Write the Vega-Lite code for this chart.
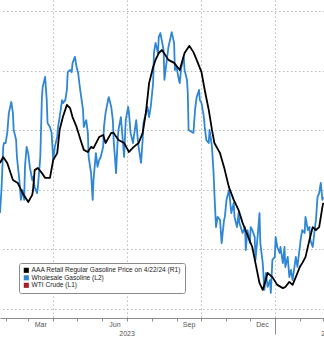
{
  "$schema": "https://vega.github.io/schema/vega-lite/v6.json",
  "width": 324,
  "height": 318,
  "padding": {"left": 0, "top": 0, "right": 0, "bottom": 20},
  "autosize": {"type": "none"},
  "background": "white",
  "config": {
    "view": {"stroke": null},
    "axis": {"labelFont": "Liberation Sans", "labelColor": "#555555", "labelFontSize": 7, "labelFlush": false, "title": null},
    "legend": {"labelFont": "Liberation Sans"}
  },
  "data": {
    "values": [
      {"date": "2023-01-25", "series": "AAA Retail Regular Gasoline Price on 4/22/24 (R1)", "price": 3.490},
      {"date": "2023-01-29", "series": "AAA Retail Regular Gasoline Price on 4/22/24 (R1)", "price": 3.510},
      {"date": "2023-02-03", "series": "AAA Retail Regular Gasoline Price on 4/22/24 (R1)", "price": 3.490},
      {"date": "2023-02-10", "series": "AAA Retail Regular Gasoline Price on 4/22/24 (R1)", "price": 3.433},
      {"date": "2023-02-16", "series": "AAA Retail Regular Gasoline Price on 4/22/24 (R1)", "price": 3.423},
      {"date": "2023-02-22", "series": "AAA Retail Regular Gasoline Price on 4/22/24 (R1)", "price": 3.389},
      {"date": "2023-03-01", "series": "AAA Retail Regular Gasoline Price on 4/22/24 (R1)", "price": 3.359},
      {"date": "2023-03-06", "series": "AAA Retail Regular Gasoline Price on 4/22/24 (R1)", "price": 3.383},
      {"date": "2023-03-07", "series": "AAA Retail Regular Gasoline Price on 4/22/24 (R1)", "price": 3.399},
      {"date": "2023-03-09", "series": "AAA Retail Regular Gasoline Price on 4/22/24 (R1)", "price": 3.466},
      {"date": "2023-03-13", "series": "AAA Retail Regular Gasoline Price on 4/22/24 (R1)", "price": 3.473},
      {"date": "2023-03-18", "series": "AAA Retail Regular Gasoline Price on 4/22/24 (R1)", "price": 3.456},
      {"date": "2023-03-22", "series": "AAA Retail Regular Gasoline Price on 4/22/24 (R1)", "price": 3.440},
      {"date": "2023-03-28", "series": "AAA Retail Regular Gasoline Price on 4/22/24 (R1)", "price": 3.440},
      {"date": "2023-04-01", "series": "AAA Retail Regular Gasoline Price on 4/22/24 (R1)", "price": 3.500},
      {"date": "2023-04-06", "series": "AAA Retail Regular Gasoline Price on 4/22/24 (R1)", "price": 3.523},
      {"date": "2023-04-09", "series": "AAA Retail Regular Gasoline Price on 4/22/24 (R1)", "price": 3.601},
      {"date": "2023-04-13", "series": "AAA Retail Regular Gasoline Price on 4/22/24 (R1)", "price": 3.644},
      {"date": "2023-04-18", "series": "AAA Retail Regular Gasoline Price on 4/22/24 (R1)", "price": 3.685},
      {"date": "2023-04-22", "series": "AAA Retail Regular Gasoline Price on 4/22/24 (R1)", "price": 3.674},
      {"date": "2023-04-25", "series": "AAA Retail Regular Gasoline Price on 4/22/24 (R1)", "price": 3.644},
      {"date": "2023-04-30", "series": "AAA Retail Regular Gasoline Price on 4/22/24 (R1)", "price": 3.611},
      {"date": "2023-05-05", "series": "AAA Retail Regular Gasoline Price on 4/22/24 (R1)", "price": 3.567},
      {"date": "2023-05-09", "series": "AAA Retail Regular Gasoline Price on 4/22/24 (R1)", "price": 3.534},
      {"date": "2023-05-14", "series": "AAA Retail Regular Gasoline Price on 4/22/24 (R1)", "price": 3.527},
      {"date": "2023-05-18", "series": "AAA Retail Regular Gasoline Price on 4/22/24 (R1)", "price": 3.544},
      {"date": "2023-05-21", "series": "AAA Retail Regular Gasoline Price on 4/22/24 (R1)", "price": 3.540},
      {"date": "2023-05-28", "series": "AAA Retail Regular Gasoline Price on 4/22/24 (R1)", "price": 3.577},
      {"date": "2023-06-02", "series": "AAA Retail Regular Gasoline Price on 4/22/24 (R1)", "price": 3.584},
      {"date": "2023-06-05", "series": "AAA Retail Regular Gasoline Price on 4/22/24 (R1)", "price": 3.557},
      {"date": "2023-06-12", "series": "AAA Retail Regular Gasoline Price on 4/22/24 (R1)", "price": 3.591},
      {"date": "2023-06-15", "series": "AAA Retail Regular Gasoline Price on 4/22/24 (R1)", "price": 3.591},
      {"date": "2023-06-21", "series": "AAA Retail Regular Gasoline Price on 4/22/24 (R1)", "price": 3.567},
      {"date": "2023-06-28", "series": "AAA Retail Regular Gasoline Price on 4/22/24 (R1)", "price": 3.557},
      {"date": "2023-07-04", "series": "AAA Retail Regular Gasoline Price on 4/22/24 (R1)", "price": 3.527},
      {"date": "2023-07-10", "series": "AAA Retail Regular Gasoline Price on 4/22/24 (R1)", "price": 3.544},
      {"date": "2023-07-16", "series": "AAA Retail Regular Gasoline Price on 4/22/24 (R1)", "price": 3.557},
      {"date": "2023-07-21", "series": "AAA Retail Regular Gasoline Price on 4/22/24 (R1)", "price": 3.591},
      {"date": "2023-07-25", "series": "AAA Retail Regular Gasoline Price on 4/22/24 (R1)", "price": 3.658},
      {"date": "2023-07-29", "series": "AAA Retail Regular Gasoline Price on 4/22/24 (R1)", "price": 3.758},
      {"date": "2023-08-03", "series": "AAA Retail Regular Gasoline Price on 4/22/24 (R1)", "price": 3.812},
      {"date": "2023-08-06", "series": "AAA Retail Regular Gasoline Price on 4/22/24 (R1)", "price": 3.836},
      {"date": "2023-08-10", "series": "AAA Retail Regular Gasoline Price on 4/22/24 (R1)", "price": 3.859},
      {"date": "2023-08-14", "series": "AAA Retail Regular Gasoline Price on 4/22/24 (R1)", "price": 3.869},
      {"date": "2023-08-22", "series": "AAA Retail Regular Gasoline Price on 4/22/24 (R1)", "price": 3.836},
      {"date": "2023-08-29", "series": "AAA Retail Regular Gasoline Price on 4/22/24 (R1)", "price": 3.826},
      {"date": "2023-09-05", "series": "AAA Retail Regular Gasoline Price on 4/22/24 (R1)", "price": 3.802},
      {"date": "2023-09-11", "series": "AAA Retail Regular Gasoline Price on 4/22/24 (R1)", "price": 3.859},
      {"date": "2023-09-17", "series": "AAA Retail Regular Gasoline Price on 4/22/24 (R1)", "price": 3.883},
      {"date": "2023-09-22", "series": "AAA Retail Regular Gasoline Price on 4/22/24 (R1)", "price": 3.862},
      {"date": "2023-09-26", "series": "AAA Retail Regular Gasoline Price on 4/22/24 (R1)", "price": 3.836},
      {"date": "2023-10-02", "series": "AAA Retail Regular Gasoline Price on 4/22/24 (R1)", "price": 3.795},
      {"date": "2023-10-06", "series": "AAA Retail Regular Gasoline Price on 4/22/24 (R1)", "price": 3.735},
      {"date": "2023-10-11", "series": "AAA Retail Regular Gasoline Price on 4/22/24 (R1)", "price": 3.668},
      {"date": "2023-10-15", "series": "AAA Retail Regular Gasoline Price on 4/22/24 (R1)", "price": 3.601},
      {"date": "2023-10-18", "series": "AAA Retail Regular Gasoline Price on 4/22/24 (R1)", "price": 3.557},
      {"date": "2023-10-25", "series": "AAA Retail Regular Gasoline Price on 4/22/24 (R1)", "price": 3.523},
      {"date": "2023-10-30", "series": "AAA Retail Regular Gasoline Price on 4/22/24 (R1)", "price": 3.476},
      {"date": "2023-11-05", "series": "AAA Retail Regular Gasoline Price on 4/22/24 (R1)", "price": 3.409},
      {"date": "2023-11-11", "series": "AAA Retail Regular Gasoline Price on 4/22/24 (R1)", "price": 3.366},
      {"date": "2023-11-17", "series": "AAA Retail Regular Gasoline Price on 4/22/24 (R1)", "price": 3.332},
      {"date": "2023-11-22", "series": "AAA Retail Regular Gasoline Price on 4/22/24 (R1)", "price": 3.289},
      {"date": "2023-11-27", "series": "AAA Retail Regular Gasoline Price on 4/22/24 (R1)", "price": 3.255},
      {"date": "2023-12-04", "series": "AAA Retail Regular Gasoline Price on 4/22/24 (R1)", "price": 3.208},
      {"date": "2023-12-08", "series": "AAA Retail Regular Gasoline Price on 4/22/24 (R1)", "price": 3.154},
      {"date": "2023-12-13", "series": "AAA Retail Regular Gasoline Price on 4/22/24 (R1)", "price": 3.087},
      {"date": "2023-12-17", "series": "AAA Retail Regular Gasoline Price on 4/22/24 (R1)", "price": 3.064},
      {"date": "2023-12-19", "series": "AAA Retail Regular Gasoline Price on 4/22/24 (R1)", "price": 3.081},
      {"date": "2023-12-23", "series": "AAA Retail Regular Gasoline Price on 4/22/24 (R1)", "price": 3.121},
      {"date": "2023-12-29", "series": "AAA Retail Regular Gasoline Price on 4/22/24 (R1)", "price": 3.107},
      {"date": "2024-01-04", "series": "AAA Retail Regular Gasoline Price on 4/22/24 (R1)", "price": 3.081},
      {"date": "2024-01-11", "series": "AAA Retail Regular Gasoline Price on 4/22/24 (R1)", "price": 3.070},
      {"date": "2024-01-14", "series": "AAA Retail Regular Gasoline Price on 4/22/24 (R1)", "price": 3.074},
      {"date": "2024-01-19", "series": "AAA Retail Regular Gasoline Price on 4/22/24 (R1)", "price": 3.091},
      {"date": "2024-01-23", "series": "AAA Retail Regular Gasoline Price on 4/22/24 (R1)", "price": 3.081},
      {"date": "2024-01-27", "series": "AAA Retail Regular Gasoline Price on 4/22/24 (R1)", "price": 3.107},
      {"date": "2024-02-01", "series": "AAA Retail Regular Gasoline Price on 4/22/24 (R1)", "price": 3.141},
      {"date": "2024-02-04", "series": "AAA Retail Regular Gasoline Price on 4/22/24 (R1)", "price": 3.154},
      {"date": "2024-02-08", "series": "AAA Retail Regular Gasoline Price on 4/22/24 (R1)", "price": 3.174},
      {"date": "2024-02-13", "series": "AAA Retail Regular Gasoline Price on 4/22/24 (R1)", "price": 3.232},
      {"date": "2024-02-17", "series": "AAA Retail Regular Gasoline Price on 4/22/24 (R1)", "price": 3.275},
      {"date": "2024-02-21", "series": "AAA Retail Regular Gasoline Price on 4/22/24 (R1)", "price": 3.265},
      {"date": "2024-02-25", "series": "AAA Retail Regular Gasoline Price on 4/22/24 (R1)", "price": 3.275},
      {"date": "2024-02-29", "series": "AAA Retail Regular Gasoline Price on 4/22/24 (R1)", "price": 3.342},
      {"date": "2024-03-01", "series": "AAA Retail Regular Gasoline Price on 4/22/24 (R1)", "price": 3.356},
      {"date": "2023-01-25", "series": "Wholesale Gasoline (L2)", "price": 2.322},
      {"date": "2023-01-27", "series": "Wholesale Gasoline (L2)", "price": 2.409},
      {"date": "2023-01-29", "series": "Wholesale Gasoline (L2)", "price": 2.544},
      {"date": "2023-01-30", "series": "Wholesale Gasoline (L2)", "price": 2.557},
      {"date": "2023-02-01", "series": "Wholesale Gasoline (L2)", "price": 2.557},
      {"date": "2023-02-03", "series": "Wholesale Gasoline (L2)", "price": 2.591},
      {"date": "2023-02-05", "series": "Wholesale Gasoline (L2)", "price": 2.658},
      {"date": "2023-02-08", "series": "Wholesale Gasoline (L2)", "price": 2.695},
      {"date": "2023-02-10", "series": "Wholesale Gasoline (L2)", "price": 2.658},
      {"date": "2023-02-11", "series": "Wholesale Gasoline (L2)", "price": 2.601},
      {"date": "2023-02-14", "series": "Wholesale Gasoline (L2)", "price": 2.567},
      {"date": "2023-02-15", "series": "Wholesale Gasoline (L2)", "price": 2.510},
      {"date": "2023-02-18", "series": "Wholesale Gasoline (L2)", "price": 2.433},
      {"date": "2023-02-20", "series": "Wholesale Gasoline (L2)", "price": 2.366},
      {"date": "2023-02-22", "series": "Wholesale Gasoline (L2)", "price": 2.399},
      {"date": "2023-02-24", "series": "Wholesale Gasoline (L2)", "price": 2.366},
      {"date": "2023-02-25", "series": "Wholesale Gasoline (L2)", "price": 2.477},
      {"date": "2023-02-27", "series": "Wholesale Gasoline (L2)", "price": 2.544},
      {"date": "2023-03-01", "series": "Wholesale Gasoline (L2)", "price": 2.523},
      {"date": "2023-03-03", "series": "Wholesale Gasoline (L2)", "price": 2.477},
      {"date": "2023-03-06", "series": "Wholesale Gasoline (L2)", "price": 2.433},
      {"date": "2023-03-07", "series": "Wholesale Gasoline (L2)", "price": 2.443},
      {"date": "2023-03-09", "series": "Wholesale Gasoline (L2)", "price": 2.409},
      {"date": "2023-03-12", "series": "Wholesale Gasoline (L2)", "price": 2.389},
      {"date": "2023-03-13", "series": "Wholesale Gasoline (L2)", "price": 2.409},
      {"date": "2023-03-16", "series": "Wholesale Gasoline (L2)", "price": 2.510},
      {"date": "2023-03-18", "series": "Wholesale Gasoline (L2)", "price": 2.711},
      {"date": "2023-03-19", "series": "Wholesale Gasoline (L2)", "price": 2.745},
      {"date": "2023-03-22", "series": "Wholesale Gasoline (L2)", "price": 2.779},
      {"date": "2023-03-24", "series": "Wholesale Gasoline (L2)", "price": 2.701},
      {"date": "2023-03-25", "series": "Wholesale Gasoline (L2)", "price": 2.624},
      {"date": "2023-03-28", "series": "Wholesale Gasoline (L2)", "price": 2.611},
      {"date": "2023-03-30", "series": "Wholesale Gasoline (L2)", "price": 2.591},
      {"date": "2023-04-01", "series": "Wholesale Gasoline (L2)", "price": 2.500},
      {"date": "2023-04-03", "series": "Wholesale Gasoline (L2)", "price": 2.544},
      {"date": "2023-04-06", "series": "Wholesale Gasoline (L2)", "price": 2.577},
      {"date": "2023-04-07", "series": "Wholesale Gasoline (L2)", "price": 2.611},
      {"date": "2023-04-09", "series": "Wholesale Gasoline (L2)", "price": 2.644},
      {"date": "2023-04-12", "series": "Wholesale Gasoline (L2)", "price": 2.701},
      {"date": "2023-04-13", "series": "Wholesale Gasoline (L2)", "price": 2.691},
      {"date": "2023-04-16", "series": "Wholesale Gasoline (L2)", "price": 2.701},
      {"date": "2023-04-18", "series": "Wholesale Gasoline (L2)", "price": 2.735},
      {"date": "2023-04-19", "series": "Wholesale Gasoline (L2)", "price": 2.795},
      {"date": "2023-04-22", "series": "Wholesale Gasoline (L2)", "price": 2.802},
      {"date": "2023-04-24", "series": "Wholesale Gasoline (L2)", "price": 2.795},
      {"date": "2023-04-25", "series": "Wholesale Gasoline (L2)", "price": 2.825},
      {"date": "2023-04-28", "series": "Wholesale Gasoline (L2)", "price": 2.846},
      {"date": "2023-04-30", "series": "Wholesale Gasoline (L2)", "price": 2.812},
      {"date": "2023-05-02", "series": "Wholesale Gasoline (L2)", "price": 2.792},
      {"date": "2023-05-04", "series": "Wholesale Gasoline (L2)", "price": 2.745},
      {"date": "2023-05-08", "series": "Wholesale Gasoline (L2)", "price": 2.668},
      {"date": "2023-05-09", "series": "Wholesale Gasoline (L2)", "price": 2.611},
      {"date": "2023-05-12", "series": "Wholesale Gasoline (L2)", "price": 2.634},
      {"date": "2023-05-14", "series": "Wholesale Gasoline (L2)", "price": 2.591},
      {"date": "2023-05-15", "series": "Wholesale Gasoline (L2)", "price": 2.510},
      {"date": "2023-05-18", "series": "Wholesale Gasoline (L2)", "price": 2.456},
      {"date": "2023-05-20", "series": "Wholesale Gasoline (L2)", "price": 2.366},
      {"date": "2023-05-21", "series": "Wholesale Gasoline (L2)", "price": 2.433},
      {"date": "2023-05-24", "series": "Wholesale Gasoline (L2)", "price": 2.523},
      {"date": "2023-05-26", "series": "Wholesale Gasoline (L2)", "price": 2.477},
      {"date": "2023-05-28", "series": "Wholesale Gasoline (L2)", "price": 2.500},
      {"date": "2023-05-30", "series": "Wholesale Gasoline (L2)", "price": 2.510},
      {"date": "2023-06-02", "series": "Wholesale Gasoline (L2)", "price": 2.544},
      {"date": "2023-06-03", "series": "Wholesale Gasoline (L2)", "price": 2.611},
      {"date": "2023-06-05", "series": "Wholesale Gasoline (L2)", "price": 2.658},
      {"date": "2023-06-08", "series": "Wholesale Gasoline (L2)", "price": 2.701},
      {"date": "2023-06-09", "series": "Wholesale Gasoline (L2)", "price": 2.711},
      {"date": "2023-06-12", "series": "Wholesale Gasoline (L2)", "price": 2.678},
      {"date": "2023-06-14", "series": "Wholesale Gasoline (L2)", "price": 2.634},
      {"date": "2023-06-15", "series": "Wholesale Gasoline (L2)", "price": 2.567},
      {"date": "2023-06-18", "series": "Wholesale Gasoline (L2)", "price": 2.456},
      {"date": "2023-06-20", "series": "Wholesale Gasoline (L2)", "price": 2.567},
      {"date": "2023-06-21", "series": "Wholesale Gasoline (L2)", "price": 2.601},
      {"date": "2023-06-24", "series": "Wholesale Gasoline (L2)", "price": 2.644},
      {"date": "2023-06-26", "series": "Wholesale Gasoline (L2)", "price": 2.577},
      {"date": "2023-06-28", "series": "Wholesale Gasoline (L2)", "price": 2.510},
      {"date": "2023-06-30", "series": "Wholesale Gasoline (L2)", "price": 2.634},
      {"date": "2023-07-03", "series": "Wholesale Gasoline (L2)", "price": 2.678},
      {"date": "2023-07-04", "series": "Wholesale Gasoline (L2)", "price": 2.658},
      {"date": "2023-07-06", "series": "Wholesale Gasoline (L2)", "price": 2.591},
      {"date": "2023-07-09", "series": "Wholesale Gasoline (L2)", "price": 2.557},
      {"date": "2023-07-10", "series": "Wholesale Gasoline (L2)", "price": 2.577},
      {"date": "2023-07-13", "series": "Wholesale Gasoline (L2)", "price": 2.634},
      {"date": "2023-07-15", "series": "Wholesale Gasoline (L2)", "price": 2.567},
      {"date": "2023-07-16", "series": "Wholesale Gasoline (L2)", "price": 2.544},
      {"date": "2023-07-19", "series": "Wholesale Gasoline (L2)", "price": 2.490},
      {"date": "2023-07-21", "series": "Wholesale Gasoline (L2)", "price": 2.567},
      {"date": "2023-07-22", "series": "Wholesale Gasoline (L2)", "price": 2.624},
      {"date": "2023-07-25", "series": "Wholesale Gasoline (L2)", "price": 2.658},
      {"date": "2023-07-27", "series": "Wholesale Gasoline (L2)", "price": 2.678},
      {"date": "2023-07-29", "series": "Wholesale Gasoline (L2)", "price": 2.644},
      {"date": "2023-07-31", "series": "Wholesale Gasoline (L2)", "price": 2.678},
      {"date": "2023-08-03", "series": "Wholesale Gasoline (L2)", "price": 2.758},
      {"date": "2023-08-04", "series": "Wholesale Gasoline (L2)", "price": 2.859},
      {"date": "2023-08-06", "series": "Wholesale Gasoline (L2)", "price": 2.893},
      {"date": "2023-08-09", "series": "Wholesale Gasoline (L2)", "price": 2.859},
      {"date": "2023-08-10", "series": "Wholesale Gasoline (L2)", "price": 2.913},
      {"date": "2023-08-12", "series": "Wholesale Gasoline (L2)", "price": 2.926},
      {"date": "2023-08-16", "series": "Wholesale Gasoline (L2)", "price": 2.869},
      {"date": "2023-08-17", "series": "Wholesale Gasoline (L2)", "price": 2.769},
      {"date": "2023-08-20", "series": "Wholesale Gasoline (L2)", "price": 2.836},
      {"date": "2023-08-22", "series": "Wholesale Gasoline (L2)", "price": 2.879},
      {"date": "2023-08-24", "series": "Wholesale Gasoline (L2)", "price": 2.903},
      {"date": "2023-08-26", "series": "Wholesale Gasoline (L2)", "price": 2.929},
      {"date": "2023-08-29", "series": "Wholesale Gasoline (L2)", "price": 2.893},
      {"date": "2023-08-30", "series": "Wholesale Gasoline (L2)", "price": 2.802},
      {"date": "2023-09-01", "series": "Wholesale Gasoline (L2)", "price": 2.812},
      {"date": "2023-09-04", "series": "Wholesale Gasoline (L2)", "price": 2.769},
      {"date": "2023-09-05", "series": "Wholesale Gasoline (L2)", "price": 2.758},
      {"date": "2023-09-07", "series": "Wholesale Gasoline (L2)", "price": 2.812},
      {"date": "2023-09-10", "series": "Wholesale Gasoline (L2)", "price": 2.846},
      {"date": "2023-09-11", "series": "Wholesale Gasoline (L2)", "price": 2.802},
      {"date": "2023-09-14", "series": "Wholesale Gasoline (L2)", "price": 2.769},
      {"date": "2023-09-15", "series": "Wholesale Gasoline (L2)", "price": 2.725},
      {"date": "2023-09-16", "series": "Wholesale Gasoline (L2)", "price": 2.601},
      {"date": "2023-09-20", "series": "Wholesale Gasoline (L2)", "price": 2.594},
      {"date": "2023-09-22", "series": "Wholesale Gasoline (L2)", "price": 2.591},
      {"date": "2023-09-24", "series": "Wholesale Gasoline (L2)", "price": 2.668},
      {"date": "2023-09-26", "series": "Wholesale Gasoline (L2)", "price": 2.711},
      {"date": "2023-09-29", "series": "Wholesale Gasoline (L2)", "price": 2.735},
      {"date": "2023-09-30", "series": "Wholesale Gasoline (L2)", "price": 2.701},
      {"date": "2023-10-02", "series": "Wholesale Gasoline (L2)", "price": 2.691},
      {"date": "2023-10-05", "series": "Wholesale Gasoline (L2)", "price": 2.644},
      {"date": "2023-10-06", "series": "Wholesale Gasoline (L2)", "price": 2.611},
      {"date": "2023-10-08", "series": "Wholesale Gasoline (L2)", "price": 2.567},
      {"date": "2023-10-11", "series": "Wholesale Gasoline (L2)", "price": 2.557},
      {"date": "2023-10-12", "series": "Wholesale Gasoline (L2)", "price": 2.601},
      {"date": "2023-10-15", "series": "Wholesale Gasoline (L2)", "price": 2.544},
      {"date": "2023-10-17", "series": "Wholesale Gasoline (L2)", "price": 2.456},
      {"date": "2023-10-18", "series": "Wholesale Gasoline (L2)", "price": 2.389},
      {"date": "2023-10-20", "series": "Wholesale Gasoline (L2)", "price": 2.275},
      {"date": "2023-10-22", "series": "Wholesale Gasoline (L2)", "price": 2.309},
      {"date": "2023-10-25", "series": "Wholesale Gasoline (L2)", "price": 2.299},
      {"date": "2023-10-27", "series": "Wholesale Gasoline (L2)", "price": 2.221},
      {"date": "2023-10-30", "series": "Wholesale Gasoline (L2)", "price": 2.299},
      {"date": "2023-10-31", "series": "Wholesale Gasoline (L2)", "price": 2.309},
      {"date": "2023-11-02", "series": "Wholesale Gasoline (L2)", "price": 2.366},
      {"date": "2023-11-05", "series": "Wholesale Gasoline (L2)", "price": 2.399},
      {"date": "2023-11-06", "series": "Wholesale Gasoline (L2)", "price": 2.376},
      {"date": "2023-11-08", "series": "Wholesale Gasoline (L2)", "price": 2.322},
      {"date": "2023-11-11", "series": "Wholesale Gasoline (L2)", "price": 2.356},
      {"date": "2023-11-12", "series": "Wholesale Gasoline (L2)", "price": 2.309},
      {"date": "2023-11-15", "series": "Wholesale Gasoline (L2)", "price": 2.275},
      {"date": "2023-11-17", "series": "Wholesale Gasoline (L2)", "price": 2.322},
      {"date": "2023-11-18", "series": "Wholesale Gasoline (L2)", "price": 2.289},
      {"date": "2023-11-22", "series": "Wholesale Gasoline (L2)", "price": 2.255},
      {"date": "2023-11-25", "series": "Wholesale Gasoline (L2)", "price": 2.275},
      {"date": "2023-11-26", "series": "Wholesale Gasoline (L2)", "price": 2.198},
      {"date": "2023-11-28", "series": "Wholesale Gasoline (L2)", "price": 2.265},
      {"date": "2023-12-01", "series": "Wholesale Gasoline (L2)", "price": 2.221},
      {"date": "2023-12-02", "series": "Wholesale Gasoline (L2)", "price": 2.275},
      {"date": "2023-12-04", "series": "Wholesale Gasoline (L2)", "price": 2.265},
      {"date": "2023-12-07", "series": "Wholesale Gasoline (L2)", "price": 2.242},
      {"date": "2023-12-08", "series": "Wholesale Gasoline (L2)", "price": 2.165},
      {"date": "2023-12-11", "series": "Wholesale Gasoline (L2)", "price": 2.255},
      {"date": "2023-12-13", "series": "Wholesale Gasoline (L2)", "price": 2.322},
      {"date": "2023-12-14", "series": "Wholesale Gasoline (L2)", "price": 2.221},
      {"date": "2023-12-17", "series": "Wholesale Gasoline (L2)", "price": 2.154},
      {"date": "2023-12-19", "series": "Wholesale Gasoline (L2)", "price": 2.064},
      {"date": "2023-12-21", "series": "Wholesale Gasoline (L2)", "price": 2.121},
      {"date": "2023-12-23", "series": "Wholesale Gasoline (L2)", "price": 2.074},
      {"date": "2023-12-26", "series": "Wholesale Gasoline (L2)", "price": 2.097},
      {"date": "2023-12-27", "series": "Wholesale Gasoline (L2)", "price": 2.054},
      {"date": "2023-12-29", "series": "Wholesale Gasoline (L2)", "price": 2.165},
      {"date": "2024-01-01", "series": "Wholesale Gasoline (L2)", "price": 2.175},
      {"date": "2024-01-02", "series": "Wholesale Gasoline (L2)", "price": 2.242},
      {"date": "2024-01-04", "series": "Wholesale Gasoline (L2)", "price": 2.208},
      {"date": "2024-01-07", "series": "Wholesale Gasoline (L2)", "price": 2.188},
      {"date": "2024-01-08", "series": "Wholesale Gasoline (L2)", "price": 2.208},
      {"date": "2024-01-11", "series": "Wholesale Gasoline (L2)", "price": 2.154},
      {"date": "2024-01-13", "series": "Wholesale Gasoline (L2)", "price": 2.208},
      {"date": "2024-01-14", "series": "Wholesale Gasoline (L2)", "price": 2.141},
      {"date": "2024-01-17", "series": "Wholesale Gasoline (L2)", "price": 2.175},
      {"date": "2024-01-19", "series": "Wholesale Gasoline (L2)", "price": 2.107},
      {"date": "2024-01-21", "series": "Wholesale Gasoline (L2)", "price": 2.131},
      {"date": "2024-01-23", "series": "Wholesale Gasoline (L2)", "price": 2.097},
      {"date": "2024-01-26", "series": "Wholesale Gasoline (L2)", "price": 2.154},
      {"date": "2024-01-27", "series": "Wholesale Gasoline (L2)", "price": 2.175},
      {"date": "2024-01-29", "series": "Wholesale Gasoline (L2)", "price": 2.141},
      {"date": "2024-02-01", "series": "Wholesale Gasoline (L2)", "price": 2.208},
      {"date": "2024-02-02", "series": "Wholesale Gasoline (L2)", "price": 2.232},
      {"date": "2024-02-04", "series": "Wholesale Gasoline (L2)", "price": 2.265},
      {"date": "2024-02-07", "series": "Wholesale Gasoline (L2)", "price": 2.255},
      {"date": "2024-02-08", "series": "Wholesale Gasoline (L2)", "price": 2.309},
      {"date": "2024-02-11", "series": "Wholesale Gasoline (L2)", "price": 2.265},
      {"date": "2024-02-13", "series": "Wholesale Gasoline (L2)", "price": 2.275},
      {"date": "2024-02-14", "series": "Wholesale Gasoline (L2)", "price": 2.232},
      {"date": "2024-02-17", "series": "Wholesale Gasoline (L2)", "price": 2.208},
      {"date": "2024-02-19", "series": "Wholesale Gasoline (L2)", "price": 2.255},
      {"date": "2024-02-21", "series": "Wholesale Gasoline (L2)", "price": 2.299},
      {"date": "2024-02-23", "series": "Wholesale Gasoline (L2)", "price": 2.376},
      {"date": "2024-02-25", "series": "Wholesale Gasoline (L2)", "price": 2.389},
      {"date": "2024-02-27", "series": "Wholesale Gasoline (L2)", "price": 2.423},
      {"date": "2024-02-29", "series": "Wholesale Gasoline (L2)", "price": 2.366},
      {"date": "2024-03-01", "series": "Wholesale Gasoline (L2)", "price": 2.376}
    ]
  },
  "layer": [
    {
      "transform": [{"filter": "datum.series === 'Wholesale Gasoline (L2)'"}],
      "mark": {"type": "line", "strokeWidth": 1.8, "clip": true, "strokeJoin": "round"},
      "encoding": {
        "x": {
          "field": "date", "type": "temporal",
          "scale": {"type": "utc", "domain": [{"year": 2023, "month": 1, "date": 25, "utc": true}, {"year": 2024, "month": 3, "date": 2, "utc": true}]},
          "axis": {
            "orient": "bottom",
            "values": [{"year": 2023, "month": 4, "date": 1, "utc": true}, {"year": 2023, "month": 7, "date": 1, "utc": true}, {"year": 2023, "month": 10, "date": 1, "utc": true}, {"year": 2024, "month": 1, "date": 1, "utc": true}],
            "grid": true, "gridColor": "#b8b8b8", "gridDash": [1.5, 2.5], "gridWidth": 1,
            "ticks": false, "labels": false, "domain": false
          }
        },
        "y": {"field": "price", "type": "quantitative", "scale": {"domain": [1.9698, 3.0369], "zero": false, "nice": false}, "axis": null},
        "color": {
          "field": "series", "type": "nominal",
          "scale": {"domain": ["AAA Retail Regular Gasoline Price on 4/22/24 (R1)", "Wholesale Gasoline (L2)", "WTI Crude (L1)"], "range": ["#000000", "#2f86d4", "#a51e2b"]},
          "legend": {
            "orient": "none", "legendX": 19, "legendY": 263, "title": null,
            "fillColor": "white", "strokeColor": "#8a8a8a", "cornerRadius": 2, "padding": 4,
            "symbolType": "square", "symbolSize": 26, "symbolStrokeWidth": 0,
            "labelFontSize": 6.6, "labelColor": "#222222", "rowPadding": 0.5, "labelOffset": 2, "labelLimit": 300,
            "encode": {"symbols": {"update": {"fill": {"scale": "color", "field": "value"}, "stroke": {"value": "transparent"}, "opacity": {"value": 1}}}}
          }
        }
      }
    },
    {
      "transform": [{"filter": "datum.series === 'AAA Retail Regular Gasoline Price on 4/22/24 (R1)'"}],
      "mark": {"type": "line", "strokeWidth": 1.8, "clip": true, "strokeJoin": "round"},
      "encoding": {
        "x": {
          "field": "date", "type": "temporal",
          "axis": {
            "orient": "bottom",
            "tickCount": {"interval": "month", "step": 1},
            "grid": false, "labels": false,
            "domain": true, "domainColor": "#8c8c8c", "domainWidth": 1,
            "ticks": true, "tickColor": "#8c8c8c", "tickWidth": 1,
            "tickSize": {"condition": {"test": "time(datum.value) == 1704067200000", "value": 16}, "value": 3}
          }
        },
        "y": {
          "field": "price", "type": "quantitative",
          "scale": {"domain": [2.9698, 4.0369], "zero": false, "nice": false},
          "axis": {"orient": "right", "values": [3.0, 3.2, 3.4, 3.6, 3.8, 4.0], "grid": true, "gridColor": "#b8b8b8", "gridDash": [1.5, 2.5], "gridWidth": 1, "labels": false, "ticks": false, "domain": false}
        },
        "color": {"field": "series", "type": "nominal"}
      }
    },
    {
      "data": {"values": []},
      "mark": "rule",
      "encoding": {
        "x": {
          "field": "date", "type": "temporal",
          "axis": {
            "orient": "bottom",
            "values": [{"year": 2023, "month": 3, "date": 16, "utc": true}, {"year": 2023, "month": 6, "date": 16, "utc": true}, {"year": 2023, "month": 9, "date": 16, "utc": true}, {"year": 2023, "month": 12, "date": 16, "utc": true}],
            "labelExpr": "utcFormat(datum.value, '%b')",
            "ticks": false, "domain": false, "grid": false, "labelPadding": 2, "labelAlign": "center"
          }
        }
      }
    },
    {
      "data": {"values": []},
      "mark": "rule",
      "encoding": {
        "x": {
          "field": "date", "type": "temporal",
          "axis": {
            "orient": "bottom",
            "values": [{"year": 2023, "month": 7, "date": 1, "utc": true}, {"year": 2024, "month": 2, "date": 27, "utc": true}],
            "labelExpr": "utcFormat(datum.value, '%Y')",
            "ticks": false, "domain": false, "grid": false, "labelPadding": 11,
            "labelAlign": {"condition": {"test": "time(datum.value) > 1704067200000", "value": "left"}, "value": "center"}
          }
        }
      }
    }
  ],
  "resolve": {"scale": {"y": "independent"}, "axis": {"x": "independent", "y": "independent"}}
}
